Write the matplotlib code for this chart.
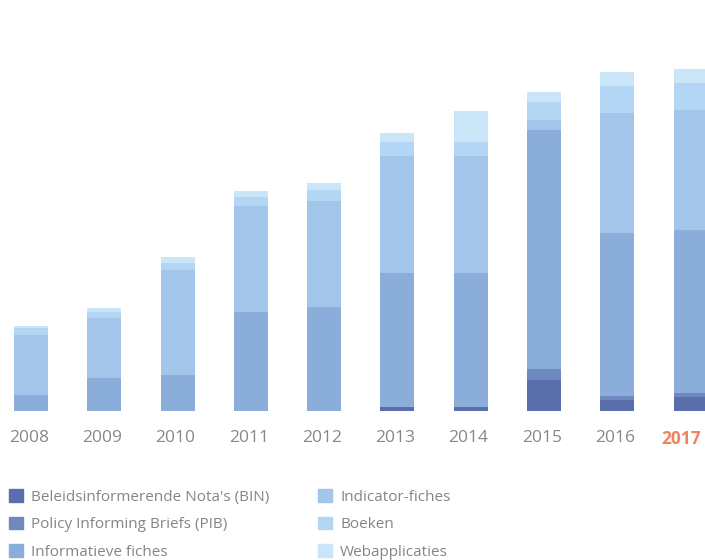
import matplotlib.pyplot as plt
import matplotlib.patches as mpatches
import matplotlib.transforms as mtransforms
import numpy as np

plt.rcParams['font.family'] = ['Open Sans', 'DejaVu Sans']

#--data (arbitrary units)
years = ['2008', '2009', '2010', '2011', '2012', '2013', '2014', '2015', '2016', '2017']
bin_nota = [0, 0, 0, 0, 0, 4, 4, 31, 11, 14]
pib = [0, 0, 0, 0, 0, 0, 0, 11, 4, 4]
informatieve = [16, 33, 36, 99, 104, 134, 134, 239, 163, 163]
indicator = [60, 60, 105, 106, 106, 117, 117, 10, 120, 120]
boeken = [7, 6, 7, 9, 11, 14, 14, 18, 27, 27]
webapps = [2, 4, 6, 6, 7, 9, 31, 10, 14, 14]

series = [bin_nota, pib, informatieve, indicator, boeken, webapps]
names = ["Beleidsinformerende Nota's (BIN)", 'Policy Informing Briefs (PIB)', 'Informatieve fiches',
         'Indicator-fiches', 'Boeken', 'Webapplicaties']
colors = ['#5a6eac', '#6f89c0', '#8badda', '#a3c5ea', '#b2d6f3', '#c9e5f7']

W, H = 705, 560
step = 73.3
fig = plt.figure(figsize=(W/100, H/100), dpi=100)
#--axes spans full width, baseline at y=411px
ax = fig.add_axes([0, (H-411)/H, 1, (411-20)/H])

x = np.arange(len(years))
bottom = np.zeros(len(years))
for vals, c in zip(series, colors):
  ax.bar(x, vals, width=34/step, bottom=bottom, color=c, linewidth=0)
  bottom = bottom + np.array(vals)

ax.set_xlim(-31/step, (W-31)/step)
ax.set_ylim(0, 391)
ax.set_yticks([])
for s in ax.spines.values():
  s.set_visible(False)
ax.set_xticks(x - 0.03)
ax.set_xticklabels(years, fontsize=12.5, color='#878787')
ax.tick_params(axis='x', length=0, pad=14)
lab = ax.get_xticklabels()[-1]
lab.set_color('#f0845a')
lab.set_fontweight('bold')
lab.set_transform(lab.get_transform() + mtransforms.ScaledTranslation(-5/72, 0, fig.dpi_scale_trans))

handles = [mpatches.Patch(color=c, label=n) for c, n in zip(colors, names)]
leg = fig.legend(handles=handles, loc='upper left', bbox_to_anchor=(9/W, 1-489/H), ncol=2,
                 frameon=False, fontsize=11, handlelength=0.92, handleheight=0.92, handletextpad=0.52,
                 labelspacing=0.78, columnspacing=3.2, borderpad=0, borderaxespad=0)
for t in leg.get_texts():
  t.set_color('#858585')

fig.savefig('out.png', dpi=100)
